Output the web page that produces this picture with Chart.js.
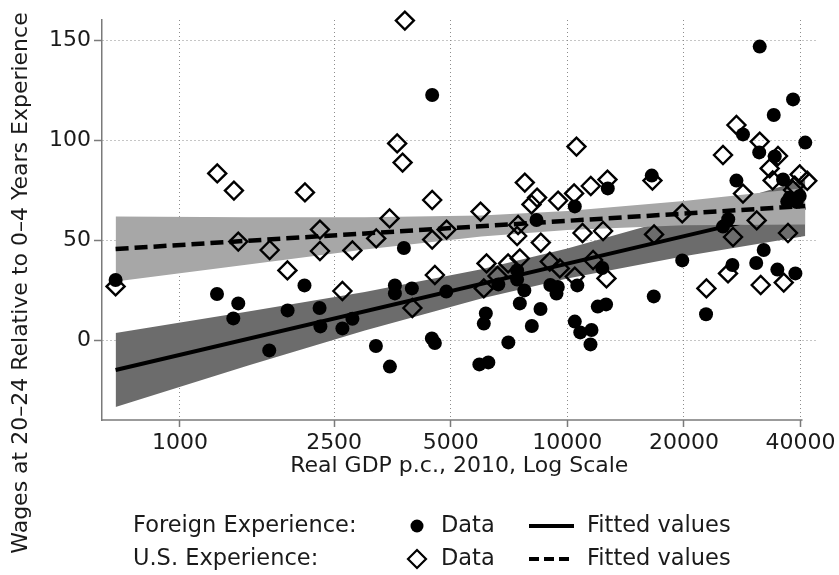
<!DOCTYPE html>
<html>
<head>
<meta charset="utf-8">
<script src="https://cdn.jsdelivr.net/npm/chart.js@4.4.1/dist/chart.umd.min.js"></script>
<style>
  html, body { margin: 0; padding: 0; background: #fff; }
  #wrap { width: 839px; height: 575px; }
</style>
</head>
<body>
<div id="wrap"><canvas id="chart" width="839" height="575"></canvas></div>
<script>
// Foreign experience (filled circles): real GDP p.c. and wage growth
const foreignGdp = [682, 1246, 1414, 1373, 1700, 1896, 2096, 2293, 2304, 2626, 2787, 3205, 3483, 3785, 3588, 3588,
    3969, 4478, 4470, 4550, 4872, 6160, 6087, 5928, 6253, 6635, 7043, 7420, 7420, 7745, 7540, 8526, 8097, 8327,
    9038, 9450, 9376, 10454, 10612, 10454, 10800, 11545, 11477, 12307, 11984, 12590, 12718, 16520, 16718, 19802,
    22811, 25230, 26025, 27327, 28415, 26680, 30740, 32140, 31384, 31293, 34320, 34115, 38262, 41147, 36054,
    37518, 39810, 36963, 39109, 34859, 38800];
const foreignWage = [30, 23, 18.3, 10.8, -5.2, 14.8, 27.3, 16, 6.8, 5.8, 10.6, -3, -13.3, 46, 27.3, 23.3,
    25.8, 122.5, 0.8, -1.5, 24.2, 13.3, 8.2, -12.2, -11.2, 27.8, -1.2, 34.8, 30.2, 24.8, 18.3, 15.5, 7, 60,
    27.5, 26.5, 23.2, 66.8, 27.3, 9.2, 3.8, 5, -2.2, 36, 16.7, 17.8, 75.8, 82.2, 21.8, 39.8,
    12.9, 56.7, 60.4, 79.7, 102.8, 37.5, 38.5, 45, 146.7, 93.8, 91.8, 112.5, 120.3, 98.7, 80.3,
    71.2, 72, 69.2, 69, 35.2, 33.3];

// U.S. experience (hollow diamonds)
const usGdp = [682, 1248, 1378, 1414, 1704, 1894, 2102, 2298, 2298, 2626, 2787, 3211, 3476, 3637, 3756, 3807,
    3981, 4478, 4478, 4550, 4878, 5970, 6186, 6087, 6604, 7033, 7540, 7463, 7420, 7767, 8355, 8082, 8542,
    9467, 9010, 9564, 10559, 10412, 10946, 10454, 11497, 11656, 12696, 12367, 12621, 16588, 16750, 19802,
    22863, 25230, 27327, 28415, 26779, 25995, 30830, 31384, 31570, 34990, 33300, 33900, 36205, 37130,
    39810, 41640, 38650, 38262];
const usWage = [26.8, 83.3, 74.7, 49.2, 45, 34.8, 73.8, 55.2, 44.5, 24.5, 44.8, 50.8, 60.8, 98.3, 88.7, 159.7,
    16, 70, 50.2, 32.5, 55.2, 64.2, 38.3, 25.8, 32, 38.3, 40.8, 57.5, 52, 78.7, 71.2, 67.8, 48.7,
    69.7, 39.2, 35.8, 96.7, 73.3, 53.5, 31.7, 77, 40, 80.2, 54.5, 30.8, 79.7, 52.8, 63.3,
    25.8, 92.5, 107.5, 73.2, 51.5, 33.3, 59.8, 99.2, 27.5, 92, 85.8, 79.8, 28.7, 53.5,
    82.8, 79.6, 77.2, 75];

// fitted values at both ends of the data
const fitGdp = [682, 41150];
const foreignFit = [-15, 66.2];
const usFit = [45.5, 67];

// confidence bands read at a few points
const bandGdp = [682, 1500, 3000, 6000, 10000, 20000, 41150];
const foreignUpper = [3.5, 14.2, 24, 35.4, 45.7, 62.1, 80.4];
const foreignLower = [-33.5, -12.8, 4.8, 20.8, 30.7, 41.9, 52];
const usUpper = [61.7, 61.4, 61.4, 62.3, 64.5, 69.5, 76];
const usLower = [29.3, 37.8, 45.2, 51.8, 55, 57.4, 57.8];

const xTicks = [1000, 2500, 5000, 10000, 20000, 40000];
const yTicks = [0, 50, 100, 150];

const FONT = '"DejaVu Sans", sans-serif';
const TEXT = '#1a1a1a';
const AXIS = '#7a7a7a';

function toPoints(xs, ys) {
    return xs.map((x, i) => ({ x: x, y: ys[i] }));
}

function lineSet(xs, ys, extra) {
    return Object.assign({
        type: 'line',
        data: toPoints(xs, ys),
        pointRadius: 0,
        borderColor: 'rgba(0,0,0,0)',
        borderWidth: 1,
        tension: 0,
        fill: false
    }, extra);
}

// x axis line, y title and the two-row legend are drawn by hand
const extras = {
    id: 'extras',
    beforeDatasetsDraw(chart) {
        const ctx = chart.ctx;
        const area = chart.chartArea;
        const xs = chart.scales.x;
        ctx.save();
        ctx.strokeStyle = AXIS;
        ctx.lineWidth = 1.5;
        ctx.beginPath();
        ctx.moveTo(area.left - 0.75, area.bottom);
        ctx.lineTo(xs.getPixelForValue(xTicks[xTicks.length - 1]) + 2, area.bottom);
        ctx.stroke();
        ctx.restore();
    },
    afterDraw(chart) {
        const ctx = chart.ctx;
        ctx.save();
        ctx.fillStyle = TEXT;
        ctx.font = '22px ' + FONT;
        ctx.textAlign = 'center';
        ctx.textBaseline = 'middle';
        ctx.translate(21, 283);
        ctx.rotate(-Math.PI / 2);
        ctx.fillText('Wages at 20\u201324 Relative to 0\u20134 Years Experience', 0, 0);
        ctx.restore();

        const rows = [
            { label: 'Foreign Experience:', y: 526, marker: 'circle', dash: [] },
            { label: 'U.S. Experience:', y: 559, marker: 'diamond', dash: [10, 5] }
        ];
        ctx.save();
        ctx.font = '22.5px ' + FONT;
        ctx.textBaseline = 'middle';
        ctx.textAlign = 'left';
        rows.forEach(r => {
            ctx.fillStyle = TEXT;
            ctx.fillText(r.label, 133, r.y);
            ctx.fillText('Data', 441, r.y);
            ctx.fillText('Fitted values', 587, r.y);
            ctx.fillStyle = '#000';
            ctx.strokeStyle = '#000';
            if (r.marker === 'circle') {
                ctx.beginPath();
                ctx.arc(417, r.y, 6.5, 0, Math.PI * 2);
                ctx.fill();
            } else {
                ctx.lineWidth = 2.2;
                ctx.beginPath();
                ctx.moveTo(417, r.y - 9);
                ctx.lineTo(426, r.y);
                ctx.lineTo(417, r.y + 9);
                ctx.lineTo(408, r.y);
                ctx.closePath();
                ctx.stroke();
            }
            ctx.lineWidth = 4;
            ctx.setLineDash(r.dash);
            ctx.beginPath();
            ctx.moveTo(529, r.y);
            ctx.lineTo(574, r.y);
            ctx.stroke();
            ctx.setLineDash([]);
        });
        ctx.restore();
    }
};

new Chart(document.getElementById('chart'), {
    type: 'scatter',
    data: {
        datasets: [
            {
                label: 'U.S. Data',
                data: toPoints(usGdp, usWage),
                pointStyle: 'rectRot',
                pointRadius: 9,
                borderWidth: 2.4,
                borderColor: '#000',
                backgroundColor: 'rgba(0,0,0,0)',
                clip: false
            },
            {
                label: 'Foreign Data',
                data: toPoints(foreignGdp, foreignWage),
                pointStyle: 'circle',
                pointRadius: 7,
                borderWidth: 0,
                borderColor: '#000',
                backgroundColor: '#000',
                clip: false
            },
            lineSet(fitGdp, usFit, { borderColor: '#000', borderWidth: 4.5, borderDash: [13, 6] }),
            lineSet(bandGdp, usUpper, { fill: '+1', backgroundColor: '#a7a7a7' }),
            lineSet(bandGdp, usLower),
            lineSet(fitGdp, foreignFit, { borderColor: '#000', borderWidth: 4 }),
            lineSet(bandGdp, foreignUpper, { fill: '+1', backgroundColor: '#6c6c6c' }),
            lineSet(bandGdp, foreignLower)
        ]
    },
    options: {
        responsive: false,
        animation: false,
        layout: { padding: { left: 0, top: 20, right: 22, bottom: 95 } },
        plugins: {
            legend: { display: false },
            tooltip: { enabled: false }
        },
        scales: {
            x: {
                type: 'logarithmic',
                min: 629,
                max: 44000,
                afterBuildTicks: (s) => { s.ticks = xTicks.map(v => ({ value: v })); },
                afterFit: (s) => { s.height = 60; },
                ticks: {
                    autoSkip: false,
                    maxRotation: 0,
                    padding: 3,
                    color: TEXT,
                    font: { family: FONT, size: 22 },
                    callback: (v) => String(v)
                },
                grid: {
                    color: '#8c8c8c',
                    lineWidth: 1,
                    tickLength: 7,
                    tickColor: AXIS,
                    tickWidth: 1.5
                },
                border: { display: false, dash: [1, 3] },
                title: {
                    display: true,
                    text: 'Real GDP p.c., 2010, Log Scale',
                    color: TEXT,
                    font: { family: FONT, size: 22 },
                    padding: { top: 0, bottom: 1 }
                }
            },
            y: {
                min: -40,
                max: 160,
                afterBuildTicks: (s) => { s.ticks = yTicks.map(v => ({ value: v })); },
                afterFit: (s) => { s.width = 102; },
                ticks: {
                    padding: 3,
                    color: TEXT,
                    font: { family: FONT, size: 22 }
                },
                grid: {
                    color: '#8c8c8c',
                    lineWidth: 1,
                    tickLength: 8,
                    tickColor: AXIS,
                    tickWidth: 1.5
                },
                border: { display: true, color: AXIS, width: 1.5, dash: [1, 3] }
            }
        }
    },
    plugins: [extras]
});
</script>
</body>
</html>
